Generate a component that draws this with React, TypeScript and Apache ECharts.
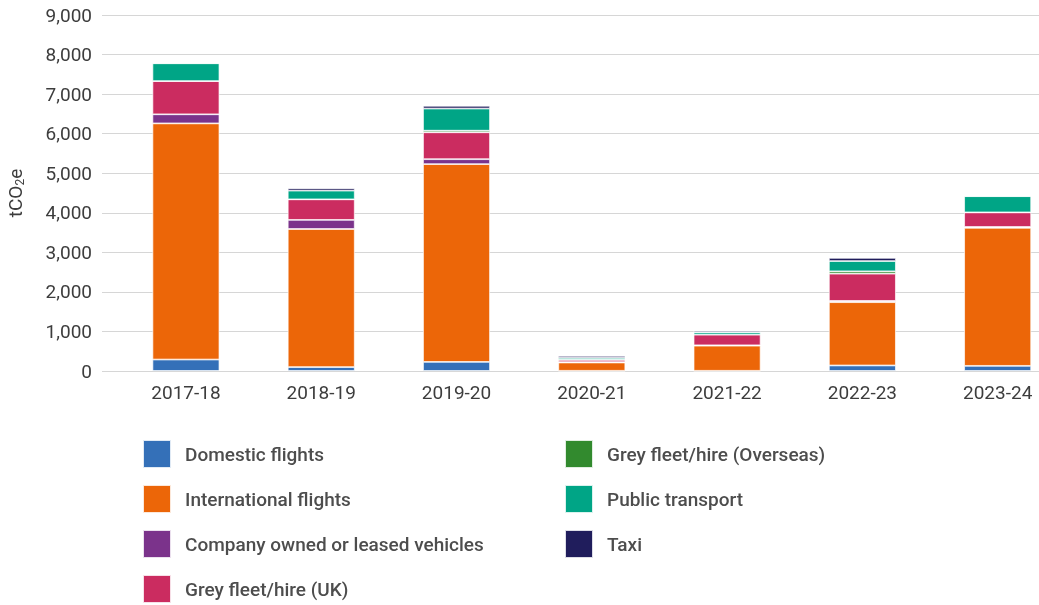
import React, { useEffect, useRef } from "react";
import * as echarts from "echarts";

const categories = ["2017-18", "2018-19", "2019-20", "2020-21", "2021-22", "2022-23", "2023-24"];
const domesticFlights = [290, 100, 230, 5, 5, 140, 130];
const internationalFlights = [5970, 3490, 5000, 210, 635, 1600, 3490];
const companyVehicles = [230, 230, 125, 10, 10, 30, 20];
const greyFleetUK = [840, 520, 680, 60, 270, 690, 370];
const greyFleetOverseas = [0, 0, 40, 0, 0, 60, 0];
const publicTransport = [450, 220, 560, 45, 60, 260, 410];
const taxi = [10, 60, 70, 50, 40, 80, 0];
const yTicks = [0, 1000, 2000, 3000, 4000, 5000, 6000, 7000, 8000, 9000];

const seriesDefs = [
  { name: "Domestic flights", data: domesticFlights, color: "#3470b8" },
  { name: "International flights", data: internationalFlights, color: "#ec6608" },
  { name: "Company owned or leased vehicles", data: companyVehicles, color: "#7b338b" },
  { name: "Grey fleet/hire (UK)", data: greyFleetUK, color: "#cb2c60" },
  { name: "Grey fleet/hire (Overseas)", data: greyFleetOverseas, color: "#328a2e" },
  { name: "Public transport", data: publicTransport, color: "#00a586" },
  { name: "Taxi", data: taxi, color: "#201d5c" },
];

const FONT = "Roboto, 'Noto Sans', sans-serif";
const TXT = "#3d3d3d";

export default function App() {
  const ref = useRef<HTMLDivElement>(null);
  useEffect(() => {
    if (!ref.current) return;
    const chart = echarts.init(ref.current, undefined, { renderer: "svg" });
    const yMin = yTicks[0];
    const yMax = yTicks[yTicks.length - 1];
    const yStep = yTicks[1] - yTicks[0];
    const legendCommon = {
      orient: "vertical" as const,
      top: 439,
      height: 200,
      padding: 0,
      itemWidth: 28,
      itemHeight: 28,
      itemGap: 15,
      icon: "rect",
      selectedMode: false,
      textStyle: {
        fontFamily: FONT,
        fontSize: 19,
        fontWeight: 500,
        color: "#4d4d4d",
        padding: [0, 0, 0, 9],
      },
    };
    chart.setOption({
      animation: false,
      textStyle: { fontFamily: FONT },
      grid: [
        { left: 118.3, width: 947, top: 15, bottom: 234, containLabel: false, outerBoundsMode: "none" },
        { left: 102, right: 0, top: 15, bottom: 234, containLabel: false, outerBoundsMode: "none" },
      ],
      legend: [
        { ...legendCommon, left: 142, data: seriesDefs.slice(0, 4).map((s) => s.name) },
        { ...legendCommon, left: 564, data: seriesDefs.slice(4).map((s) => s.name) },
      ],
      xAxis: [
        {
          type: "category",
          gridIndex: 0,
          data: categories,
          splitLine: { show: false },
          axisLine: { show: false },
          axisTick: { show: false },
          axisLabel: { fontFamily: FONT, fontSize: 19, color: TXT, margin: 12 },
        },
        { type: "value", gridIndex: 1, show: false },
      ],
      yAxis: [
        {
          type: "value",
          gridIndex: 0,
          min: yMin,
          max: yMax,
          interval: yStep,
          show: false,
          splitLine: { show: false },
        },
        {
          type: "value",
          gridIndex: 1,
          min: yMin,
          max: yMax,
          interval: yStep,
          name: "tCO{sub|2}e",
          nameLocation: "middle",
          nameGap: 76,
          nameRotate: 90,
          nameTextStyle: {
            fontFamily: FONT,
            fontSize: 19,
            color: TXT,
            rich: {
              sub: { fontSize: 12, verticalAlign: "bottom", padding: [10, 0, 0, 0], color: TXT, fontFamily: FONT },
            },
          },
          axisLine: { show: false },
          axisTick: { show: false },
          splitLine: { lineStyle: { color: "#d6d6d6", width: 1 } },
          axisLabel: {
            fontFamily: FONT,
            fontSize: 19,
            color: TXT,
            margin: 10,
            formatter: (v: number) => v.toLocaleString("en-US"),
          },
        },
      ],
      series: seriesDefs.map((s) => ({
        name: s.name,
        type: "bar",
        stack: "total",
        xAxisIndex: 0,
        yAxisIndex: 0,
        barWidth: 67,
        itemStyle: { color: s.color, borderColor: "rgba(255,255,255,0.85)", borderWidth: 0.8 },
        emphasis: { disabled: true },
        data: s.data,
      })),
    });
    return () => chart.dispose();
  }, []);
  return (
    <div
      ref={ref}
      style={{ position: "fixed", left: 0, top: 0, width: 1039, height: 605, overflow: "hidden" }}
    />
  );
}
